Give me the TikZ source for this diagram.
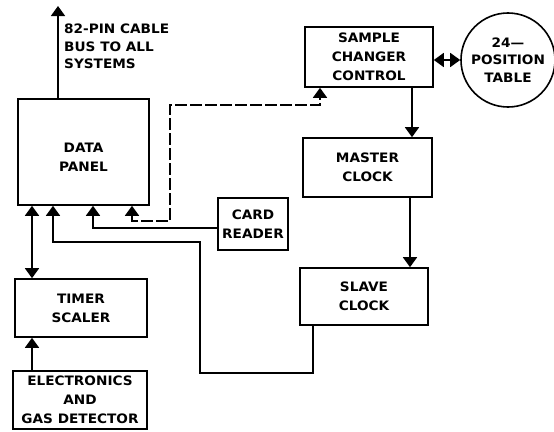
\documentclass[tikz,border=0pt]{standalone}
\usepackage{fontspec}
\setmainfont{DejaVu Sans}[FakeStretch=1.05]
\usetikzlibrary{arrows.meta}
\begin{document}
\begin{tikzpicture}[x=1pt,y=-1pt,
  blk/.style={draw, line width=1.6pt, align=center, inner sep=0pt,
    font=\fontsize{13}{19}\selectfont\bfseries},
  conn/.style={line width=1.6pt},
  tip/.tip={Triangle[width=14pt,length=10pt]},
  arr/.style={conn, -tip},
  dbl/.style={conn, tip-tip},
  lbl/.style={align=left, inner sep=0pt, font=\fontsize{13}{17.5}\selectfont\bfseries}
]
\useasboundingbox (0,0) rectangle (554,431);
% blocks
\node[blk, minimum width=131pt, minimum height=106pt] (DP) at (83.5,152) {\rule{0pt}{19pt}DATA\\PANEL};
\node[blk, minimum width=128pt, minimum height=60pt] (SCC) at (369,57) {SAMPLE\\CHANGER\\CONTROL};
\node[blk, circle, minimum size=94pt, font=\fontsize{13}{17.5}\selectfont\bfseries] (TBL) at (508,60) {24—\\POSITION\\TABLE};
\node[blk, minimum width=129pt, minimum height=59pt] (MC) at (367.5,167.5) {MASTER\\CLOCK};
\node[blk, minimum width=70pt, minimum height=52pt] (CR) at (253,224) {CARD\\READER};
\node[blk, minimum width=128pt, minimum height=57pt] (SC) at (364,296.5) {SLAVE\\CLOCK};
\node[blk, minimum width=132pt, minimum height=58pt] (TS) at (81,308) {TIMER\\SCALER};
\node[blk, minimum width=134pt, minimum height=58pt] (EG) at (80,400) {ELECTRONICS\\AND\\GAS DETECTOR};
% bus label
\node[lbl, anchor=north west] (BUS) at (64,24) {82-PIN CABLE\\BUS TO ALL\\SYSTEMS};
% helper coordinates
\coordinate (bustop) at (58,6);
\coordinate (x32) at (32,0);
\coordinate (x53) at (53,0);
\coordinate (x93) at (93,0);
\coordinate (x132) at (132,0);
\coordinate (x320) at (320,0);
\coordinate (x412) at (412,0);
\coordinate (x410) at (410,0);
\coordinate (x313) at (313,0);
\coordinate (d1) at (170,221);
\coordinate (d2) at (320,105);
\coordinate (s1) at (313,373);
\coordinate (s2) at (200,373);
\coordinate (s3) at (200,242);
\coordinate (s4) at (53,242);
% connectors
\draw[arr] (bustop |- DP.north) -- (bustop);
\draw[dbl] (SCC.east |- TBL.west) -- (TBL.west);
\draw[arr] (x412 |- SCC.south) -- (x412 |- MC.north);
\draw[arr] (x410 |- MC.south) -- (x410 |- SC.north);
\draw[arr] (x313 |- SC.south) -- (s1) -- (s2) -- (s3) -- (s4) -- (x53 |- DP.south);
\draw[arr] ([yshift=-4pt]CR.west) -| (x93 |- DP.south);
\draw[dbl, dash pattern=on 12pt off 3pt] (x132 |- DP.south) |- (d1) |- (d2) -- (x320 |- SCC.south);
\draw[dbl] (x32 |- DP.south) -- (x32 |- TS.north);
\draw[arr] (x32 |- EG.north) -- (x32 |- TS.south);
\end{tikzpicture}
\end{document}
